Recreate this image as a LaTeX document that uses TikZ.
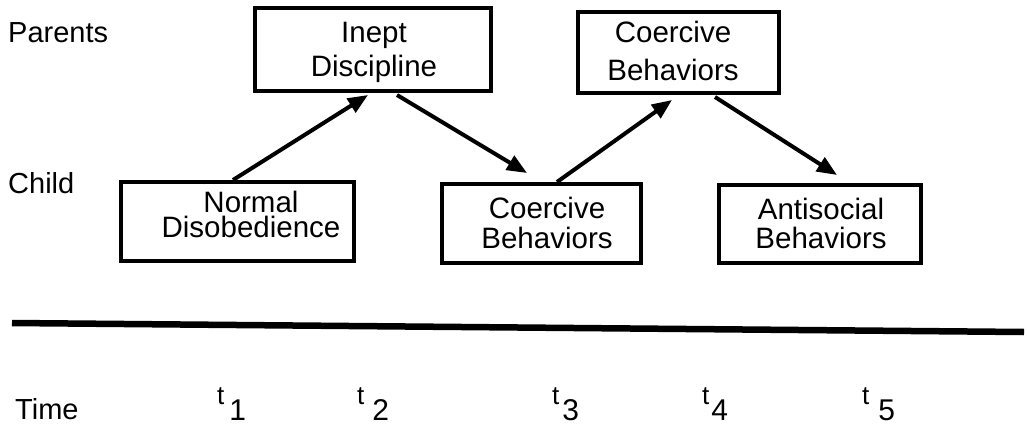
\documentclass[tikz,border=0pt]{standalone}
\usepackage{fontspec}
\setmainfont{Liberation Sans}
\usetikzlibrary{arrows.meta}
% two centred lines with a chosen baseline distance; baseline = second line
\newcommand\twolines[3]{\vbox{\baselineskip=#1\lineskiplimit=-\maxdimen\lineskip=0pt
  \halign{\hfil##\hfil\cr#2\cr#3\cr}}}
\tikzset{
  box/.style={draw, line width=4pt, inner sep=0pt},
  boxtext/.style={anchor=base, inner sep=0pt, font=\fontsize{29.5}{32}\selectfont},
  side/.style={anchor=base west, inner sep=0pt, font=\fontsize{29}{32}\selectfont},
  flow/.style={line width=4pt, -{Triangle[length=20pt,width=16pt]}},
  tick/.style={anchor=base west, inner sep=0pt, font=\fontsize{26}{30}\selectfont},
  timeline/.style={line width=6.5pt},
}
\newcommand\tsub[2]{t\hspace{#1}\raisebox{-16pt}{\fontsize{30}{34}\selectfont #2}}
\begin{document}
\begin{tikzpicture}[x=1pt,y=1pt]
  \useasboundingbox (0,0) rectangle (1027,424);

  % row labels
  \node[side] (lparents) at (8,381) {Parents};
  \node[side] (lchild)   at (8,231) {Child};
  \node[side] (ltime)    at (15,5)  {Time};

  % boxes
  \node[box, minimum width=236pt, minimum height=83pt] (id) at (373,374.5) {};
  \node[box, minimum width=233pt, minimum height=79pt] (nd) at (237.5,202.5) {};
  \node[box, minimum width=199pt, minimum height=79pt] (cc) at (541.5,200.5) {};
  \node[box, minimum width=201pt, minimum height=81pt] (cp) at (678.5,371.5) {};
  \node[box, minimum width=202pt, minimum height=78pt] (as) at (820,200) {};

  % box texts
  \node[boxtext] (idt) at (374,347) {\twolines{34pt}{Inept}{Discipline}};
  \node[boxtext] (ndt) at (251,187) {\twolines{25pt}{Normal}{Disobedience}};
  \node[boxtext] (cct) at (547,176) {\twolines{30pt}{Coercive}{Behaviors}};
  \node[boxtext] (cpt) at (673,344) {\twolines{37pt}{Coercive}{Behaviors}};
  \node[boxtext] (ast) at (821,176) {\twolines{29pt}{Antisocial}{Behaviors}};

  % influences
  \draw[flow] ([xshift=-4.5pt]nd.north) -- ([xshift=-5pt,yshift=-2pt]id.south);
  \draw[flow] ([xshift=24pt,yshift=-2pt]id.south) -- ([xshift=-14.5pt,yshift=9pt]cc.north);
  \draw[flow] ([xshift=15.5pt]cc.north) -- ([xshift=-6.5pt,yshift=-5pt]cp.south);
  \draw[flow] ([xshift=36.5pt,yshift=-2pt]cp.south) -- ([xshift=17pt,yshift=8pt]as.north);

  % time axis
  \coordinate (axl) at (12,101);
  \coordinate (axr) at (1024,92);
  \draw[timeline] (axl) -- (axr);

  % time points
  \node[tick] (t1) at (217,20) {\tsub{5pt}{1}};
  \node[tick] (t2) at (357,20) {\tsub{8pt}{2}};
  \node[tick] (t3) at (552,20) {\tsub{3pt}{3}};
  \node[tick] (t4) at (702,20) {\tsub{2pt}{4}};
  \node[tick] (t5) at (862,20) {\tsub{9pt}{5}};
\end{tikzpicture}
\end{document}
